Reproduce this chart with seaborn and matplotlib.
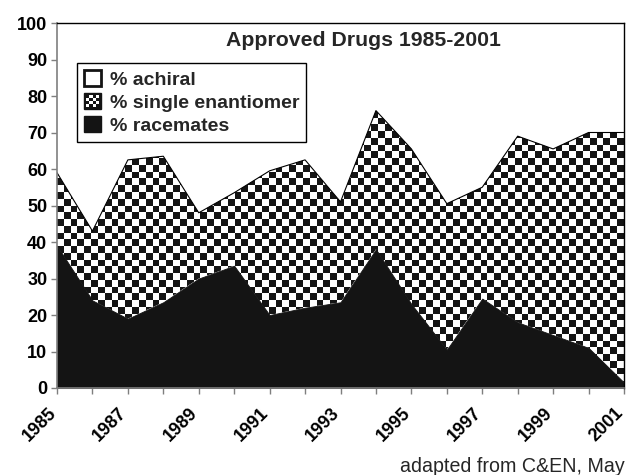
import numpy as np
import matplotlib
matplotlib.use("Agg")
import matplotlib.pyplot as plt
import seaborn as sns
from matplotlib.patches import Rectangle
from matplotlib.legend_handler import HandlerBase
from matplotlib.transforms import ScaledTranslation

# Share of newly approved drugs by chirality class, in percent
years = [1985, 1986, 1987, 1988, 1989, 1990, 1991, 1992, 1993,
         1994, 1995, 1996, 1997, 1998, 1999, 2000, 2001]
racemates = [39, 24, 19, 23.5, 30, 33.5, 20, 22, 23.5,
             38, 23, 10.5, 24.5, 18, 14.5, 11, 1.5]
single_enantiomer = [20, 19, 43.5, 40, 18, 20, 39.5, 40.5, 27.5,
                     38, 42.5, 40, 30.5, 51, 51, 59, 68.5]
achiral = [41, 57, 37.5, 36.5, 52, 46.5, 40.5, 37.5, 49,
           24, 34.5, 49.5, 45, 31, 34.5, 30, 30]
labels = ["% achiral", "% single enantiomer", "% racemates"]
title = "Approved Drugs 1985-2001"
source = "adapted from C&EN, May"

sns.set_style("ticks")
plt.rcParams["font.family"] = ["Liberation Sans", "DejaVu Sans"]

DARK = "#141414"
AXIS_GREY = "#7f7f7f"

fig = plt.figure(figsize=(6.27, 4.75), dpi=100)
ax = fig.add_axes([57 / 627, 1 - 388 / 475, 567 / 627, 365 / 475])

x = np.array(years, dtype=float)
rac = np.array(racemates, dtype=float)
top = rac + np.array(single_enantiomer, dtype=float)
full = top + np.array(achiral, dtype=float)

# achiral layer (white), single-enantiomer layer (checkered), racemate layer (solid)
ax.fill_between(x, top, full, facecolor="white", edgecolor="none", zorder=1)
poly = ax.fill_between(x, rac, top, facecolor="none", edgecolor="none", zorder=2)
ax.fill_between(x, 0, rac, facecolor=DARK, edgecolor=DARK, linewidth=0.6, zorder=3)

# checkerboard texture clipped to the single-enantiomer band
sq = 6.8
ncol = int(round(567 / sq))
nrow = int(round(365 / sq))
checker = (np.add.outer(np.arange(nrow), np.arange(ncol)) % 2).astype(float)
img = ax.imshow(checker, extent=(years[0], years[-1], 0, 100), aspect="auto",
                interpolation="nearest", cmap=matplotlib.colors.ListedColormap([DARK, "white"]),
                origin="lower", zorder=2)
img.set_clip_path(poly.get_paths()[0], transform=ax.transData)

# outline along the top of the chiral layers
sns.lineplot(x=x, y=top, ax=ax, color="black", linewidth=0.8, zorder=4)

ax.set_xlim(years[0], years[-1])
ax.set_ylim(0, 100)
ax.set_xticks(years)
ax.set_xticklabels([str(y) if (y - years[0]) % 2 == 0 else "" for y in years],
                   rotation=45, ha="right", va="center", rotation_mode="anchor",
                   fontsize=13, fontweight="bold")
ax.set_yticks(np.arange(0, 101, 10))
ax.set_yticklabels([str(v) for v in range(0, 101, 10)], fontsize=13, fontweight="bold")
ax.tick_params(axis="both", colors=AXIS_GREY, labelcolor="black", length=4, width=1)
ax.tick_params(axis="x", pad=12)
ax.tick_params(axis="y", pad=3)
ax.set_xlabel("")
ax.set_ylabel("")

# nudge the slanted year labels slightly left so the last one stays on the canvas
shift = ScaledTranslation(-3.5 / 100, 0, fig.dpi_scale_trans)
for lab in ax.get_xticklabels():
    lab.set_transform(lab.get_transform() + shift)

for side in ("left", "bottom"):
    ax.spines[side].set_color(AXIS_GREY)
    ax.spines[side].set_linewidth(1.2)
for side in ("top", "right"):
    ax.spines[side].set_visible(True)
    ax.spines[side].set_color("black")
    ax.spines[side].set_linewidth(1.0)
for s in ax.spines.values():
    s.set_zorder(6)

ax.text(0.5406, 0.953, title, transform=ax.transAxes, ha="center", va="center",
        fontsize=15.3, fontweight="bold", zorder=7)


class CheckerHandler(HandlerBase):
    def create_artists(self, legend, orig_handle, xdescent, ydescent,
                       width, height, fontsize, trans):
        x0, y0 = -xdescent, -ydescent
        arts = [Rectangle((x0, y0), width, height, facecolor=DARK,
                          edgecolor=DARK, transform=trans)]
        n = 4
        b = width * 0.14
        cw = (width - 2 * b) / n
        ch = (height - 2 * b) / n
        for i in range(n):
            for j in range(n):
                if (i + j) % 2 == 0:
                    arts.append(Rectangle((x0 + b + i * cw, y0 + b + j * ch), cw, ch,
                                          facecolor="white", edgecolor="none",
                                          transform=trans))
        return arts


h_achiral = Rectangle((0, 0), 1, 1, facecolor="white", edgecolor=DARK, linewidth=2)
h_single = Rectangle((0, 0), 1, 1, facecolor=DARK)
h_rac = Rectangle((0, 0), 1, 1, facecolor=DARK, edgecolor=DARK)
leg = ax.legend([h_achiral, h_single, h_rac], labels,
                handler_map={h_single: CheckerHandler()},
                loc="upper left", bbox_to_anchor=(20 / 567, (388 - 63) / 365),
                borderaxespad=0, frameon=True, fancybox=False, shadow=False,
                prop={"weight": "bold", "size": 14},
                handlelength=0.9, handleheight=0.9, handletextpad=0.45,
                labelspacing=0.22, borderpad=0.35)
leg.get_frame().set_edgecolor("black")
leg.get_frame().set_linewidth(1.0)
leg.get_frame().set_alpha(1)
leg.set_zorder(8)

fig.text(400 / 627, 1 - 467 / 475, source, ha="left", va="center", fontsize=14.1)

fig.savefig("out.png", dpi=100)
